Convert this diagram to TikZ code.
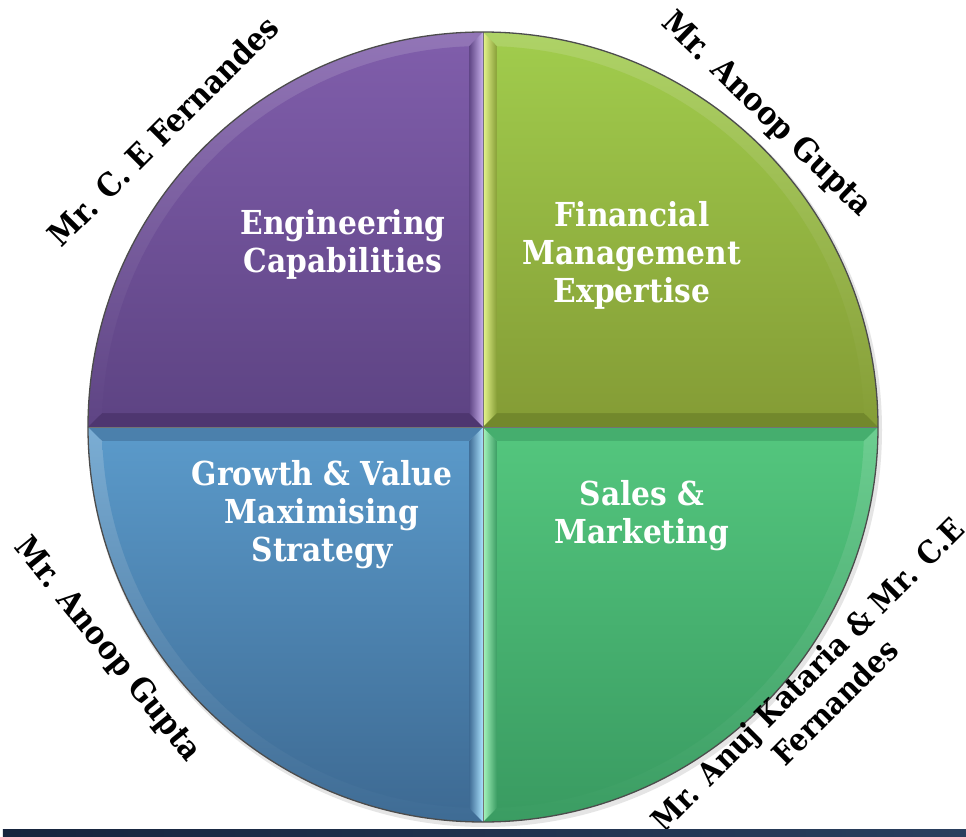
\documentclass[tikz,border=0pt]{standalone}
\usepackage{fontspec}
\setmainfont{DejaVu Serif}[FakeStretch=0.9]
\usetikzlibrary{calc}
\definecolor{tltop}{HTML}{7F5DAA}
\definecolor{tlbot}{HTML}{5E4484}
\definecolor{tllight}{HTML}{C7AEEA}
\definecolor{tldark}{HTML}{4E3670}
\definecolor{trtop}{HTML}{A0CB4C}
\definecolor{trbot}{HTML}{859D36}
\definecolor{trlight}{HTML}{E6F58C}
\definecolor{trdark}{HTML}{72882C}
\definecolor{bltop}{HTML}{5A99C9}
\definecolor{blbot}{HTML}{3E6B94}
\definecolor{bllight}{HTML}{ABE3FF}
\definecolor{bldark}{HTML}{4B80AC}
\definecolor{brtop}{HTML}{53C57D}
\definecolor{brbot}{HTML}{3A9C62}
\definecolor{brlight}{HTML}{A6F5BE}
\definecolor{brdark}{HTML}{45AE6E}
\definecolor{barL}{HTML}{16243D}
\definecolor{barR}{HTML}{2A3F5E}
\tikzset{
  intext/.style={text=white, font=\bfseries\fontsize{33}{38}\selectfont, align=center, inner sep=0pt},
  outtext/.style={text=black, font=\bfseries\fontsize{32}{40}\selectfont, align=center, inner sep=0pt},
  splitline/.style={draw=black!55, line width=0.8pt},
  rimline/.style={draw=black!70, line width=1.3pt}
}
\begin{document}
\begin{tikzpicture}[x=1pt,y=1pt]
\useasboundingbox (-483,-409) rectangle (483,427);
\fill[white] (-483,-409) rectangle (483,427);
% soft shadow
\fill[black!10] (2,-3) circle[radius=397];
% ---------- top-left (purple)
\shade[top color=tltop!85!white, bottom color=tlbot] (0,0) -- (180:395) arc[start angle=180,end angle=90,radius=395] -- cycle;
\shade[left color=tlbot, right color=tllight] (0,0) -- (0,395) -- (-14,380.7) -- (-14,14) -- cycle;
\fill[tldark] (0,0) -- (-395,0) -- (-380.7,14) -- (-14,14) -- cycle;
\shade[top color=tltop, bottom color=tlbot] (-14,14) -- (-14,380.7) arc[start angle=92.106,end angle=177.894,radius=381] -- cycle;
% ---------- top-right (yellow green)
\shade[top color=trtop!85!white, bottom color=trbot] (0,0) -- (90:395) arc[start angle=90,end angle=0,radius=395] -- cycle;
\shade[left color=trlight, right color=trbot] (0,0) -- (0,395) -- (14,380.7) -- (14,14) -- cycle;
\fill[trdark] (0,0) -- (395,0) -- (380.7,14) -- (14,14) -- cycle;
\shade[top color=trtop, bottom color=trbot] (14,14) -- (380.7,14) arc[start angle=2.106,end angle=87.894,radius=381] -- cycle;
% ---------- bottom-left (blue)
\shade[top color=bltop!80!white, bottom color=blbot] (0,0) -- (180:395) arc[start angle=180,end angle=270,radius=395] -- cycle;
\shade[left color=blbot, right color=bllight] (0,0) -- (0,-395) -- (-14,-380.7) -- (-14,-14) -- cycle;
\fill[bldark] (0,0) -- (-395,0) -- (-380.7,-14) -- (-14,-14) -- cycle;
\shade[top color=bltop, bottom color=blbot] (-14,-14) -- (-380.7,-14) arc[start angle=182.106,end angle=267.894,radius=381] -- cycle;
% ---------- bottom-right (green)
\shade[top color=brtop!85!white, bottom color=brbot] (0,0) -- (270:395) arc[start angle=270,end angle=360,radius=395] -- cycle;
\shade[left color=brlight, right color=brbot] (0,0) -- (0,-395) -- (14,-380.7) -- (14,-14) -- cycle;
\fill[brdark] (0,0) -- (395,0) -- (380.7,-14) -- (14,-14) -- cycle;
\shade[top color=brtop, bottom color=brbot] (14,-14) -- (14,-380.7) arc[start angle=272.106,end angle=357.894,radius=381] -- cycle;
% ---------- split lines and rim
\draw[splitline] (0,395) -- (0,-395);
\draw[splitline] (-395,0) -- (395,0);
\draw[rimline] (0,0) circle[radius=395];
% ---------- inner labels
\node[intext] (eng) at (-140,183) {Engineering\\Capabilities};
\node[intext] (fin) at (149,171.5) {Financial\\Management\\Expertise};
\node[intext] (gro) at (-161,-88) {Growth \& Value\\Maximising\\Strategy};
\node[intext] (sal) at (159,-88.5) {Sales \&\\Marketing};
% ---------- outer labels
\node[outtext, rotate=45] (p1) at (-320,296) {Mr. C. E Fernandes};
\node[outtext, rotate=-44] (p2) at (283,312) {Mr. Anoop Gupta};
\node[outtext, rotate=-51] (p3) at (-376,-223) {Mr. Anoop Gupta};
\node[outtext, rotate=45, font=\bfseries\fontsize{31}{39}\selectfont] (p4) at (338,-261) {Mr. Anuj Kataria \& Mr. C.E\\Fernandes};
% ---------- bottom bar
\shade[left color=barL, right color=barR] (-480,-402) rectangle (483,-409);
\end{tikzpicture}
\end{document}
